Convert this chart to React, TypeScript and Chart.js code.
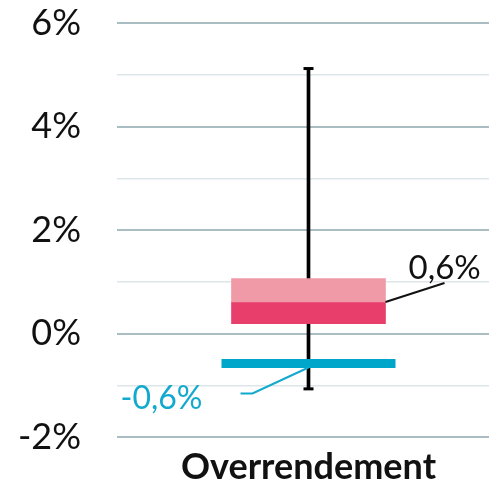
import React, { useEffect, useRef } from "react";
import { Chart, registerables } from "chart.js";

Chart.register(...registerables);

const categories = ["Overrendement"];
const whiskerRange: [number, number] = [-1.07, 5.12];
const lowerBox: [number, number] = [0.19, 0.61];
const upperBox: [number, number] = [0.61, 1.06];
const median = 0.61;
const marker = -0.58;
const medianLabel = "0,6%";
const markerLabel = "-0,6%";
const yMin = -2;
const yMax = 6;

const FONT = "Lato, 'Noto Sans', sans-serif";

const labelPlugin = {
  id: "leaderLabels",
  afterDatasetsDraw(chart: any) {
    const ctx = chart.ctx;
    const y = chart.scales.y;
    const boxMeta = chart.getDatasetMeta(1);
    const bar = boxMeta.data[0];
    if (!bar) return;
    const boxRight = bar.x + bar.width / 2;
    const cx = bar.x;
    const ym = y.getPixelForValue(median);
    const yc = y.getPixelForValue(marker);
    ctx.save();
    ctx.strokeStyle = "#111";
    ctx.lineWidth = 2;
    ctx.beginPath();
    ctx.moveTo(boxRight, ym);
    ctx.lineTo(boxRight + 59, ym - 19);
    ctx.stroke();
    ctx.fillStyle = "#111";
    ctx.font = `33px ${FONT}`;
    ctx.textAlign = "left";
    ctx.textBaseline = "alphabetic";
    ctx.fillText(medianLabel, boxRight + 23, ym - 23);
    ctx.strokeStyle = "#12a9cf";
    ctx.lineWidth = 2;
    ctx.beginPath();
    ctx.moveTo(cx, yc + 4);
    ctx.lineTo(cx - 56, yc + 30);
    ctx.lineTo(cx - 68, yc + 30);
    ctx.stroke();
    ctx.fillStyle = "#12a9cf";
    ctx.font = `32px ${FONT}`;
    ctx.textAlign = "right";
    ctx.fillText(markerLabel, cx - 106, yc + 45);
    ctx.restore();
  },
};

export default function App() {
  const ref = useRef<HTMLCanvasElement>(null);
  useEffect(() => {
    if (!ref.current) return;
    const chart = new Chart(ref.current, {
      type: "bar",
      data: {
        labels: categories,
        datasets: [
          {
            type: "line",
            data: [marker],
            showLine: false,
            pointStyle: "line",
            radius: 87,
            hoverRadius: 87,
            borderWidth: 9,
            borderColor: "#00a6c9",
            backgroundColor: "#00a6c9",
            clip: false,
            order: 0,
          } as any,
          {
            data: [upperBox],
            backgroundColor: "#f09aa8",
            barThickness: 154,
            grouped: false,
            order: 1,
          },
          {
            data: [lowerBox],
            backgroundColor: "#e83e6c",
            barThickness: 154,
            grouped: false,
            order: 1,
          },
          {
            data: [whiskerRange],
            backgroundColor: "#000",
            barThickness: 3,
            grouped: false,
            order: 3,
          },
          {
            type: "line",
            data: [whiskerRange[1]],
            showLine: false,
            pointStyle: "line",
            radius: 5,
            hoverRadius: 5,
            borderWidth: 3,
            borderColor: "#000",
            clip: false,
            order: 2,
          } as any,
          {
            type: "line",
            data: [whiskerRange[0]],
            showLine: false,
            pointStyle: "line",
            radius: 5,
            hoverRadius: 5,
            borderWidth: 3,
            borderColor: "#000",
            clip: false,
            order: 2,
          } as any,
        ],
      },
      options: {
        animation: false,
        responsive: true,
        maintainAspectRatio: false,
        layout: { autoPadding: false, padding: { top: 23, bottom: 0, left: 0, right: 0 } },
        plugins: { legend: { display: false }, tooltip: { enabled: false } },
        scales: {
          x: {
            offset: true,
            grid: { display: false },
            border: { display: false },
            ticks: {
              color: "#111",
              font: { family: FONT, size: 36, weight: "bold" },
              padding: 1,
            },
            afterFit: (s: any) => {
              s.height = 45;
              s.paddingLeft = 0;
              s.paddingRight = 0;
            },
          },
          y: {
            min: yMin,
            max: yMax,
            border: { display: false },
            grid: {
              drawTicks: false,
              color: (c: any) =>
                c.tick && Math.round(c.tick.value) % 2 === 0 ? "#a9bdc3" : "#dde6e9",
              lineWidth: (c: any) =>
                c.tick && Math.round(c.tick.value) % 2 === 0 ? 2 : 1.5,
            },
            ticks: {
              stepSize: 1,
              padding: 36,
              color: "#111",
              font: { family: FONT, size: 36 },
              callback: (v: any) => (Math.round(v) % 2 === 0 ? `${v}%` : ""),
            },
            afterFit: (s: any) => {
              s.width = 117;
              s.paddingTop = 0;
              s.paddingBottom = 0;
            },
          },
        },
      },
      plugins: [labelPlugin],
    });
    return () => chart.destroy();
  }, []);
  return (
    <div
      style={{
        position: "fixed",
        left: 0,
        top: 0,
        width: 489,
        height: 482,
        overflow: "hidden",
        background: "#fff",
      }}
    >
      <div style={{ position: "relative", width: 500, height: 482 }}>
        <canvas ref={ref} />
      </div>
    </div>
  );
}
